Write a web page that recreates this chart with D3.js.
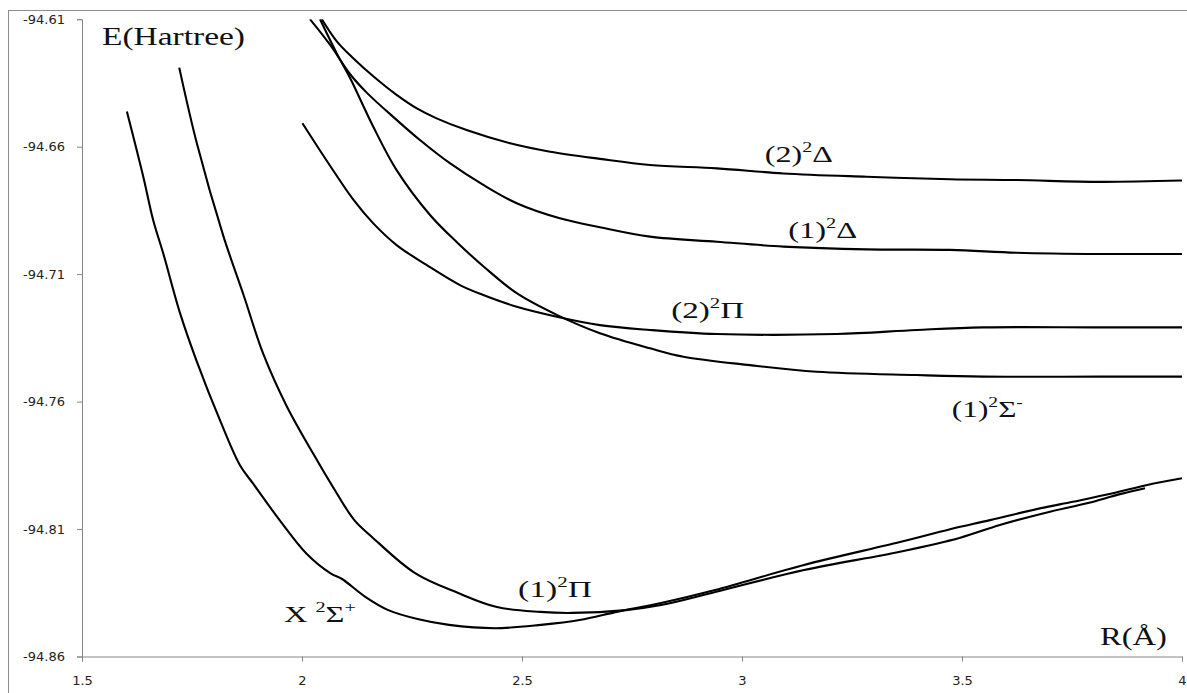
<!DOCTYPE html>
<html>
<head>
<meta charset="utf-8">
<script src="https://cdn.jsdelivr.net/npm/d3@7"></script>
<style>
  body { margin: 0; background: #fff; }
  .tick text { font-family: "DejaVu Sans", Verdana, sans-serif; font-size: 13px; fill: #222; }
  .lbl { font-family: "Liberation Serif", "Times New Roman", serif; fill: #111; }
</style>
</head>
<body>
<div id="chart"></div>
<script>
// axis ticks
const xTicks = [1.5, 2, 2.5, 3, 3.5, 4];
const yTicks = [-94.86, -94.81, -94.76, -94.71, -94.66, -94.61];

// X 2Sigma+
const rX = [1.602, 1.639, 1.662, 1.685, 1.723, 1.761, 1.814, 1.859, 1.889, 1.950, 2.011, 2.065, 2.091, 2.143, 2.196, 2.265, 2.334, 2.439, 2.543, 2.631, 2.718, 2.816, 2.939, 3.141, 3.359, 3.473, 3.564, 3.677, 3.752, 3.843, 3.921, 4.0];
const eX = [-94.6462, -94.6716, -94.6890, -94.7021, -94.7254, -94.7443, -94.7675, -94.7850, -94.7922, -94.8067, -94.8198, -94.8274, -94.8296, -94.8365, -94.8418, -94.8454, -94.8476, -94.8489, -94.8476, -94.8457, -94.8424, -94.8390, -94.8339, -94.8241, -94.8151, -94.8101, -94.8065, -94.8019, -94.7993, -94.7960, -94.7927, -94.7901];

// (1) 2Pi
const rPi1 = [1.721, 1.761, 1.821, 1.867, 1.912, 1.965, 2.026, 2.071, 2.119, 2.159, 2.257, 2.355, 2.443, 2.541, 2.614, 2.736, 2.816, 2.939, 3.141, 3.359, 3.496, 3.586, 3.700, 3.784, 3.859, 3.916];
const ePi1 = [-94.6290, -94.6587, -94.6949, -94.7181, -94.7413, -94.7617, -94.7806, -94.7937, -94.8065, -94.8131, -94.8273, -94.8351, -94.8406, -94.8425, -94.8429, -94.8418, -94.8398, -94.8347, -94.8261, -94.8189, -94.8134, -94.8084, -94.8032, -94.7999, -94.7963, -94.7940];

// (2) 2Pi
const rPi2 = [2.001, 2.060, 2.117, 2.162, 2.215, 2.283, 2.359, 2.412, 2.488, 2.579, 2.677, 2.791, 2.943, 3.215, 3.397, 3.548, 3.814, 4.0];
const ePi2 = [-94.6508, -94.6665, -94.6809, -94.6901, -94.6986, -94.7064, -94.7143, -94.7182, -94.7228, -94.7267, -94.7300, -94.7319, -94.7335, -94.7335, -94.7319, -94.7309, -94.7309, -94.7309];

// (1) 2Sigma-
const rSig = [2.041, 2.079, 2.109, 2.162, 2.215, 2.291, 2.352, 2.412, 2.488, 2.579, 2.677, 2.791, 2.867, 3.018, 3.170, 3.397, 3.548, 3.814, 4.0];
const eSig = [-94.6100, -94.6234, -94.6330, -94.6522, -94.6692, -94.6868, -94.6975, -94.7069, -94.7175, -94.7260, -94.7332, -94.7391, -94.7424, -94.7457, -94.7483, -94.7496, -94.7502, -94.7502, -94.7502];

// (1) 2Delta
const rDel1 = [2.018, 2.064, 2.109, 2.147, 2.215, 2.268, 2.336, 2.412, 2.488, 2.586, 2.677, 2.791, 2.943, 3.094, 3.283, 3.473, 3.624, 3.814, 4.0];
const eDel1 = [-94.6100, -94.6201, -94.6315, -94.6388, -94.6495, -94.6574, -94.6665, -94.6750, -94.6822, -94.6881, -94.6916, -94.6953, -94.6973, -94.6992, -94.7003, -94.7005, -94.7016, -94.7021, -94.7021];

// (2) 2Delta
const rDel2 = [2.045, 2.080, 2.117, 2.162, 2.215, 2.261, 2.306, 2.374, 2.473, 2.564, 2.677, 2.791, 2.943, 3.094, 3.283, 3.473, 3.624, 3.814, 4.0];
const eDel2 = [-94.6100, -94.6189, -94.6254, -94.6324, -94.6397, -94.6450, -94.6489, -94.6535, -94.6587, -94.6620, -94.6648, -94.6672, -94.6685, -94.6705, -94.6718, -94.6728, -94.6731, -94.6738, -94.6733];

const seriesR = [rX, rPi1, rPi2, rSig, rDel1, rDel2];
const seriesE = [eX, ePi1, ePi2, eSig, eDel1, eDel2];

// state labels: main text, symbol, trailing superscript, anchor (R, E), rendered width
const labelMain = ["(2)", "(1)", "(2)", "(1)", "(1)", "X "];
const labelSym = ["\u0394", "\u0394", "\u03A0", "\u03A3", "\u03A0", "\u03A3"];
const labelTail = ["", "", "", "-", "", "+"];
const labelR = [3.052, 3.105, 2.839, 3.477, 2.491, 1.959];
const labelE = [-94.6660, -94.6958, -94.7272, -94.7661, -94.8367, -94.8465];
const labelW = [68, 69, 73, 71, 74, 72];

const W = 1187, H = 693;
const margin = { top: 19.2, right: 5, bottom: 36.5, left: 82 };

const svg = d3.select("#chart").append("svg")
  .attr("width", W)
  .attr("height", H);

// outer chart border (only left/top visible)
svg.append("rect")
  .attr("x", 8.5).attr("y", 10.5)
  .attr("width", W + 20).attr("height", H + 20)
  .attr("fill", "none")
  .attr("stroke", "#8c8c8c");

const x = d3.scaleLinear().domain([1.5, 4]).range([margin.left, W - margin.right]);
const y = d3.scaleLinear().domain([-94.86, -94.61]).range([H - margin.bottom, margin.top]);

svg.append("clipPath").attr("id", "plot")
  .append("rect")
  .attr("x", x(1.5)).attr("y", y(-94.61))
  .attr("width", x(4) - x(1.5) + 2).attr("height", y(-94.86) - y(-94.61));

// axes
svg.append("g")
  .attr("transform", `translate(0,${y(-94.86)})`)
  .call(d3.axisBottom(x).tickValues(xTicks).tickFormat(d3.format("")).tickSize(5).tickPadding(14));
const yAxis = svg.append("g")
  .attr("transform", `translate(${x(1.5)},0)`)
  .call(d3.axisLeft(y).tickValues(yTicks).tickSize(5).tickPadding(12));
svg.selectAll(".domain, .tick line").attr("stroke", "#868686");
yAxis.selectAll(".tick text").text(d => d3.format(".2f")(d).replace("\u2212", "-"));

// curves
const line = d3.line()
  .x(d => x(d[0]))
  .y(d => y(d[1]))
  .curve(d3.curveCatmullRom.alpha(0.5));

svg.append("g")
  .attr("clip-path", "url(#plot)")
  .selectAll("path")
  .data(seriesR.map((rs, i) => rs.map((r, j) => [r, seriesE[i][j]])))
  .join("path")
  .attr("d", line)
  .attr("fill", "none")
  .attr("stroke", "#000")
  .attr("stroke-width", 2.1)
  .attr("stroke-linejoin", "round");

// axis titles
svg.append("text")
  .attr("class", "lbl")
  .attr("x", x(1.5455)).attr("y", y(-94.6201))
  .attr("font-size", 26)
  .attr("textLength", 143).attr("lengthAdjust", "spacingAndGlyphs")
  .text("E(Hartree)");

svg.append("text")
  .attr("class", "lbl")
  .attr("x", x(3.8136)).attr("y", y(-94.8555))
  .attr("font-size", 26)
  .attr("textLength", 67).attr("lengthAdjust", "spacingAndGlyphs")
  .text("R(\u00C5)");

// state labels
labelMain.forEach((m, i) => {
  const t = svg.append("text")
    .attr("class", "lbl")
    .attr("x", x(labelR[i])).attr("y", y(labelE[i]))
    .attr("font-size", 24)
    .attr("textLength", labelW[i]).attr("lengthAdjust", "spacingAndGlyphs");
  t.append("tspan").text(m);
  t.append("tspan").attr("font-size", 15).attr("dy", -10).text("2");
  t.append("tspan").attr("dy", 10).text(labelSym[i]);
  if (labelTail[i]) {
    t.append("tspan").attr("font-size", 15).attr("dy", -10).text(labelTail[i]);
  }
});
</script>
</body>
</html>
